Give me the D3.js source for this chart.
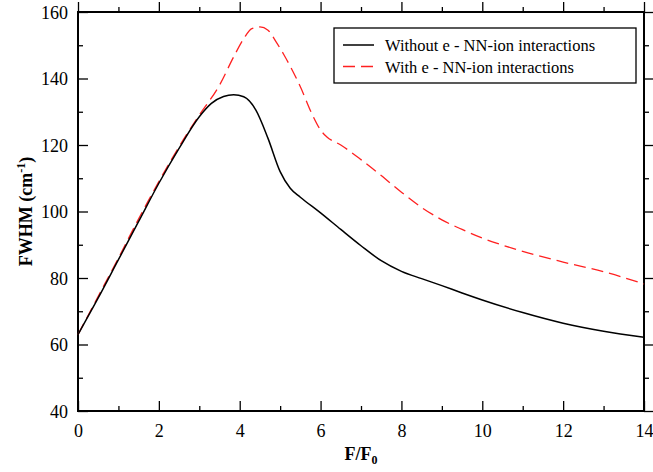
<!DOCTYPE html>
<html>
<head>
<meta charset="utf-8">
<script src="https://cdn.jsdelivr.net/npm/d3@7"></script>
<style>
  body { margin: 0; background: #fff; }
  svg text { font-family: "Liberation Serif", "Times New Roman", serif; fill: #000; }
  .axis path, .axis line { stroke: #000; }
</style>
</head>
<body>
<div id="chart"></div>
<script>
// F/F0 values and FWHM (cm^-1)
var fNoIon = [0, 0.5, 1, 1.5, 2, 2.5, 3, 3.3, 3.6, 3.85, 4.1, 4.4, 4.7, 5.0, 5.25, 5.5, 6, 6.5, 7, 7.5, 8, 8.5, 9, 9.5, 10, 11, 12, 13, 14];
var wNoIon = [63, 74, 85.5, 97, 108.5, 119, 128.5, 132.5, 134.6, 135.1, 134.5, 130.5, 122, 112, 107, 104.3, 99.6, 94.6, 89.7, 85.2, 82.0, 79.8, 77.7, 75.5, 73.4, 69.6, 66.4, 64, 62.2];

var fIon = [0, 0.5, 1, 1.5, 2, 2.5, 3, 3.5, 3.85, 4.1, 4.3, 4.5, 4.7, 4.9, 5.1, 5.5, 5.8, 6.0, 6.15, 6.5, 7, 7.5, 8, 8.5, 9, 9.5, 10, 10.5, 11, 12, 13, 14];
var wIon = [63, 74.5, 86, 97.8, 109, 119.5, 129, 138, 146.5, 152, 155, 155.5, 154.5, 151, 147, 137.5, 129, 124.5, 122.5, 120, 115.6, 110.8, 105.8, 101.2, 97.5, 94.6, 92, 89.9, 88, 84.8, 81.9, 78.2];

var xTicks = [0, 2, 4, 6, 8, 10, 12, 14];
var yTicks = [40, 60, 80, 100, 120, 140, 160];
var legendNames = ["Without e - NN-ion interactions", "With e - NN-ion interactions"];

var fullwidth = 653, fullheight = 472;
var margin = { top: 12, right: 9, bottom: 61, left: 78 };
var width = fullwidth - margin.left - margin.right;
var height = fullheight - margin.top - margin.bottom;

var svg = d3.select("#chart").append("svg")
  .attr("width", fullwidth)
  .attr("height", fullheight);

var g = svg.append("g")
  .attr("transform", "translate(" + margin.left + "," + margin.top + ")");

var xScale = d3.scaleLinear().domain([0, 14]).range([0, width]);
var yScale = d3.scaleLinear().domain([40, 160]).range([height, 0]);

var minorX = d3.range(0, 14.01, 1).filter(function(d) { return d % 2 != 0; });
var minorY = d3.range(40, 160.01, 10).filter(function(d) { return d % 20 != 0; });

// ticks (inward) on all four sides
function ticks(axisFn, scale, vals, len, tx, ty, labels) {
  var a = g.append("g").attr("class", "axis")
    .attr("transform", "translate(" + tx + "," + ty + ")")
    .call(axisFn(scale).tickValues(vals).tickSize(-len).tickPadding(labels ? 10 : 0)
      .tickFormat(labels ? d3.format("d") : ""));
  a.select(".domain").remove();
  a.selectAll("line").attr("stroke-width", 1.3);
  a.selectAll("text").style("font-size", "18px");
  return a;
}
var xl = ticks(d3.axisBottom, xScale, xTicks, 10, 0, height, true);
xl.selectAll("text").attr("dy", "0.9em");
ticks(d3.axisBottom, xScale, minorX, 5, 0, height, false);
ticks(d3.axisTop, xScale, xTicks, -10, 0, 0, false);
ticks(d3.axisTop, xScale, minorX, -5, 0, 0, false);
var yl = ticks(d3.axisLeft, yScale, yTicks, 10, 0, 0, true);
yl.selectAll("text").attr("dy", "0.34em");
ticks(d3.axisLeft, yScale, minorY, 5, 0, 0, false);
ticks(d3.axisRight, yScale, yTicks, -10, width, 0, false);
ticks(d3.axisRight, yScale, minorY, -5, width, 0, false);

// frame
g.append("rect")
  .attr("width", width).attr("height", height)
  .attr("fill", "none").attr("stroke", "#000").attr("stroke-width", 2);

var line = d3.line()
  .x(function(d) { return xScale(d[0]); })
  .y(function(d) { return yScale(d[1]); })
  .curve(d3.curveMonotoneX);

g.append("path")
  .datum(d3.zip(fIon, wIon))
  .attr("d", line)
  .attr("fill", "none")
  .attr("stroke", "#ff2020")
  .attr("stroke-width", 1.3)
  .attr("stroke-dasharray", "12,6");

g.append("path")
  .datum(d3.zip(fNoIon, wNoIon))
  .attr("d", line)
  .attr("fill", "none")
  .attr("stroke", "#000")
  .attr("stroke-width", 1.5);

// legend
var leg = svg.append("g").attr("transform", "translate(334,28)");
leg.append("rect")
  .attr("width", 302).attr("height", 55)
  .attr("fill", "#fff").attr("stroke", "#000").attr("stroke-width", 1.3);
legendNames.forEach(function(name, i) {
  var y = 17 + i * 21.5;
  leg.append("line")
    .attr("x1", 9).attr("x2", 40).attr("y1", y).attr("y2", y)
    .attr("stroke", i == 0 ? "#000" : "#ff2020")
    .attr("stroke-width", i == 0 ? 1.5 : 1.3)
    .attr("stroke-dasharray", i == 0 ? null : "12,6");
  leg.append("text")
    .attr("x", 51).attr("y", y + 6)
    .style("font-size", "16.5px")
    .text(name);
});

// axis titles
var xt = svg.append("text")
  .attr("x", margin.left + width / 2).attr("y", 460)
  .attr("text-anchor", "middle")
  .style("font-size", "18px").style("font-weight", "bold");
xt.append("tspan").text("F/F");
xt.append("tspan").attr("dy", 4).style("font-size", "12px").text("0");

var yt = svg.append("text")
  .attr("transform", "translate(32," + (margin.top + height / 2) + ") rotate(-90)")
  .attr("text-anchor", "middle")
  .style("font-size", "18px").style("font-weight", "bold");
yt.append("tspan").text("FWHM (cm");
yt.append("tspan").attr("dy", -7).style("font-size", "12px").text("-1");
yt.append("tspan").attr("dy", 7).text(")");
</script>
</body>
</html>
